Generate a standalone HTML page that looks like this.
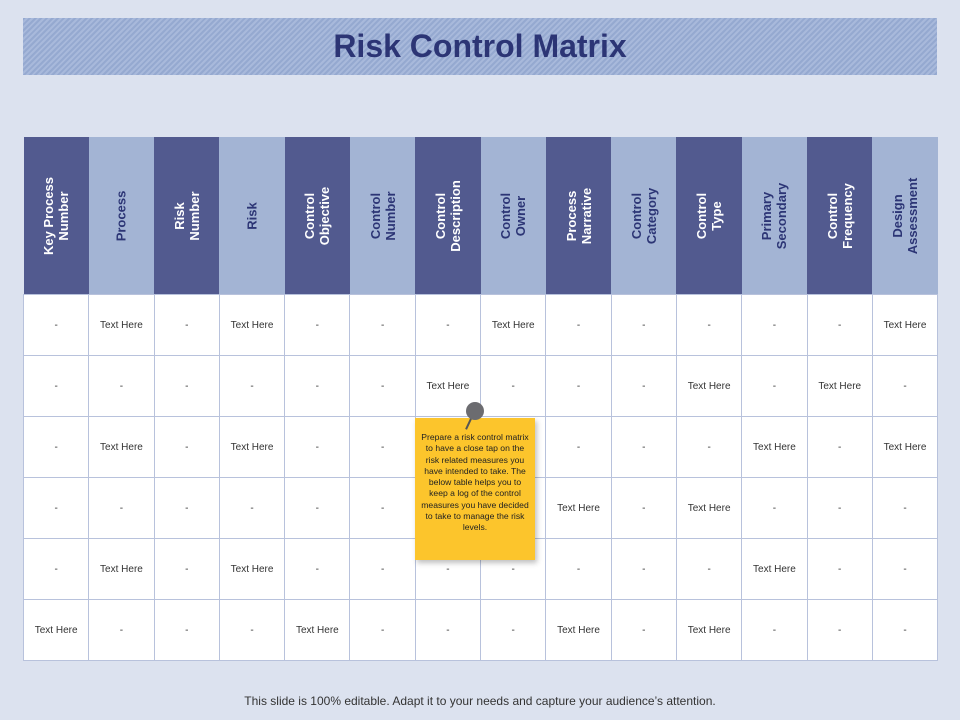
<!DOCTYPE html>
<html><head><meta charset="utf-8"><style>
body{margin:0;width:960px;height:720px;background:#dce2ef;font-family:"Liberation Sans",sans-serif;position:relative;overflow:hidden}
.title{position:absolute;left:23px;top:18px;width:914px;height:57px;background:repeating-linear-gradient(135deg,#95a9d0 0 2px,#a8b9db 2px 4px);display:flex;align-items:center;justify-content:center;font-size:32px;font-weight:bold;color:#2c3575}
table{position:absolute;left:23px;top:137px;border-collapse:collapse;table-layout:fixed;width:915px}
th{height:157px;padding:0;width:65.3px;position:relative}
th.d{background:#525a8f;color:#fff}th.l{background:#a3b4d4;color:#2c3575}
th span{position:absolute;left:50%;top:50%;transform:translate(-50%,-50%) rotate(-90deg);white-space:nowrap;font-size:13px;font-weight:bold;line-height:15px;text-align:center}
td{background:#fff;border:1px solid #b8c2dc;height:60px;text-align:center;font-size:10px;color:#333;padding:0}
.note{position:absolute;left:415px;top:418px;width:120px;height:142px;background:#fcc52c;box-shadow:2px 3px 5px rgba(0,0,0,.25);font-size:8.6px;line-height:11.3px;color:#222;text-align:center;padding:14px 6px 0;box-sizing:border-box}
.pin{position:absolute;left:466px;top:402px;width:18px;height:18px;border-radius:50%;background:#6c6c70}
.pinst{position:absolute;left:468px;top:416px;width:2px;height:14px;background:#555;transform:rotate(25deg)}
.foot{position:absolute;top:694px;width:960px;text-align:center;font-size:12px;color:#333}
</style></head><body>
<div class="title">Risk Control Matrix</div>
<table>
<tr>
<th class="d"><span>Key Process<br>Number</span></th>
<th class="l"><span>Process</span></th>
<th class="d"><span>Risk<br>Number</span></th>
<th class="l"><span>Risk</span></th>
<th class="d"><span>Control<br>Objective</span></th>
<th class="l"><span>Control<br>Number</span></th>
<th class="d"><span>Control<br>Description</span></th>
<th class="l"><span>Control<br>Owner</span></th>
<th class="d"><span>Process<br>Narrative</span></th>
<th class="l"><span>Control<br>Category</span></th>
<th class="d"><span>Control<br>Type</span></th>
<th class="l"><span>Primary<br>Secondary</span></th>
<th class="d"><span>Control<br>Frequency</span></th>
<th class="l"><span>Design<br>Assessment</span></th>
</tr>
<tbody id="body"></tbody>
</table>
<div class="note">Prepare a risk control matrix to have a close tap on the risk related measures you have intended to take. The below table helps you to keep a log of the control measures you have decided to take to manage the risk levels.</div>
<div class="pinst"></div>
<div class="pin"></div>
<div class="foot">This slide is 100% editable. Adapt it to your needs and capture your audience’s attention.</div>
<script>
const T="Text Here";
const rows=[
["-",T,"-",T,"-","-","-",T,"-","-","-","-","-",T],
["-","-","-","-","-","-",T,"-","-","-",T,"-",T,"-"],
["-",T,"-",T,"-","-","-","-","-","-","-",T,"-",T],
["-","-","-","-","-","-","-","-",T,"-",T,"-","-","-"],
["-",T,"-",T,"-","-","-","-","-","-","-",T,"-","-"],
[T,"-","-","-",T,"-","-","-",T,"-",T,"-","-","-"]
];
const tb=document.getElementById('body');
rows.forEach((r,i)=>{const tr=document.createElement('tr');


r.forEach((v,j)=>{const td=document.createElement('td');td.textContent=v;


tr.appendChild(td);});tb.appendChild(tr);});
</script>
</body></html>
